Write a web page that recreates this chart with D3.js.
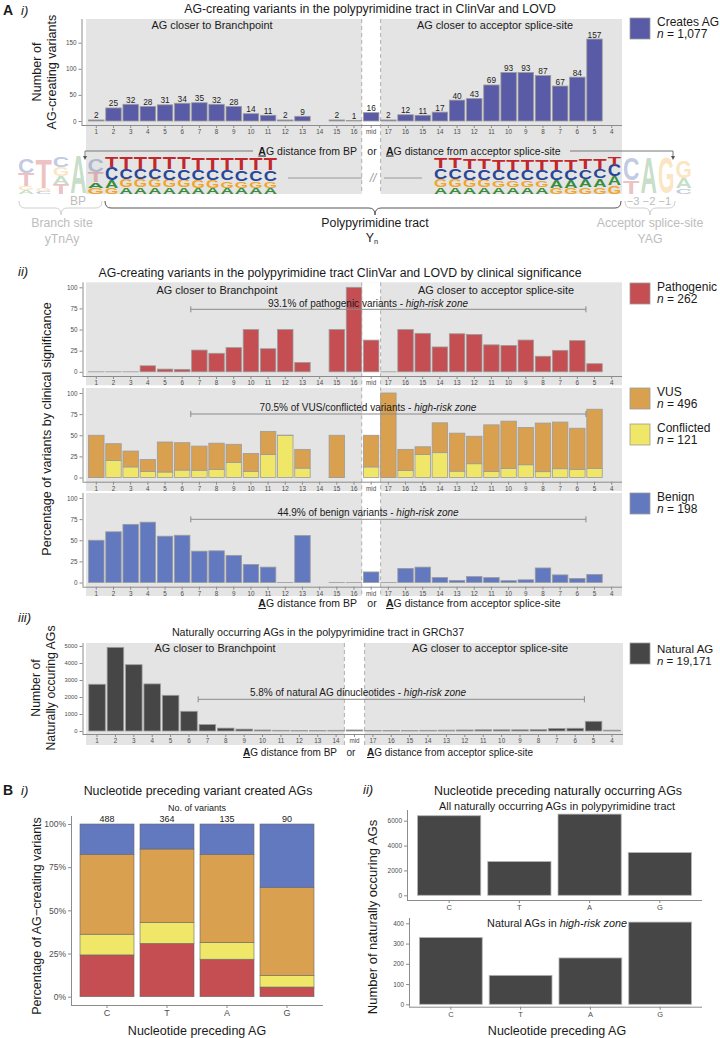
<!DOCTYPE html>
<html>
<head>
<meta charset="utf-8">
<script src="https://cdn.jsdelivr.net/npm/d3@7/dist/d3.min.js"></script>
<style>
html,body{margin:0;padding:0;background:#fff;}
svg{display:block;}
</style>
</head>
<body>
<svg id="chart" width="720" height="1038"></svg>
<script>
// ================= DATA =================
const positionsFromBP = ["1","2","3","4","5","6","7","8","9","10","11","12","13","14","15","16"];
const positionsFromAcceptor = ["17","16","15","14","13","12","11","10","9","8","7","6","5","4"];
const naturalPositionsFromBP = ["1","2","3","4","5","6","7","8","9","10","11","12","13","14"];

// A i) number of AG-creating variants
const creatingFromBP = [2,25,32,28,31,34,35,32,28,14,11,2,9,null,2,1];
const creatingMid = 16;
const creatingFromAcceptor = [2,12,11,17,40,43,69,93,93,87,67,84,157,null];

// A ii) percentage of variants by clinical significance
const pathogenicFromBP = [0,0,0,7.1,3.2,2.9,25.7,21.9,28.6,50,27.3,50,11.1,null,50,100];
const pathogenicMid = 37.5;
const pathogenicFromAcceptor = [0,50,45.5,29.4,45,44.2,31.9,31.2,37.6,18.4,25.4,36.9,9.6,null];

const vusFromBP = [50,20,18.8,14.3,35.5,32.4,28.6,31.2,21.4,21.4,27.3,0,22.2,null,50,null];
const vusMid = 37.5;
const vusFromAcceptor = [100,25,9.1,35.3,45,32.5,55.1,55.9,44.1,57.5,55.2,48.8,70,null];

const conflictedFromBP = [0,20,12.5,7.1,6.5,8.8,8.6,9.4,17.9,7.1,27.3,50,11.1,null,0,null];
const conflictedMid = 12.5;
const conflictedFromAcceptor = [0,8.3,27.3,29.4,7.5,16.3,7.2,10.8,15.1,6.9,10.4,9.5,10.8,null];

const benignFromBP = [50,60,68.8,71.4,54.8,55.9,37.1,37.5,32.1,21.4,18.2,0,55.6,null,0,0];
const benignMid = 12.5;
const benignFromAcceptor = [0,16.7,18.2,5.9,2.5,7,5.8,2.2,3.2,17.2,9,4.8,9.6,null];

// A iii) naturally occurring AGs
const naturalFromBP = [2750,4920,3900,2770,2100,1160,380,170,110,60,40,30,30,40];
const naturalMid = 60;
const naturalFromAcceptor = [30,30,30,40,50,60,70,70,70,80,150,160,570,50];

// legends
const clinicalClasses = ["Pathogenic","VUS","Conflicted","Benign"];
const clinicalCounts = ["262","496","121","198"];

// B i)
const nucleotides = ["C","T","A","G"];
const nucleotideCounts = [488,364,135,90];
const pctPathogenic = [24.2,30.9,21.7,5.6];
const pctConflicted = [12.0,12.2,9.8,6.6];
const pctVUS = [46.2,42.4,50.9,51.0];
const pctBenign = [17.6,14.5,17.6,36.8];

// B ii)
const naturalAllByNucleotide = [6400,2720,6530,3440];
const naturalHighRiskByNucleotide = [330,143,229,406];

// tick values
const yTicksCreating = [0,50,100,150];
const yTicksPct = [0,25,50,75,100];
const yTicksNatural = [0,1000,2000,3000,4000,5000];
const yTicksAll = [0,2000,4000,6000];
const yTicksHighRisk = [0,100,200,300,400];

// sequence logo (information in bits), polypyrimidine tract
const logoLeftT = [0.58,0.61,0.61,0.61,0.61,0.61,0.61,0.61,0.61,0.61,0.61,0.61];
const logoLeftC = [0.72,0.58,0.56,0.55,0.56,0.55,0.56,0.56,0.56,0.56,0.58,0.58];
const logoLeftG = [0.33,0.42,0.42,0.44,0.42,0.42,0.40,0.40,0.38,0.38,0.36,0.36];
const logoLeftA = [0.39,0.36,0.36,0.36,0.35,0.35,0.34,0.34,0.34,0.33,0.33,0.33];
const logoRightT = [0.6,0.6,0.6,0.6,0.6,0.6,0.6,0.6,0.6,0.6,0.6,0.6,0.42];
const logoRightC = [0.6,0.6,0.58,0.58,0.58,0.56,0.56,0.56,0.55,0.55,0.52,0.5,0.62];
const logoRightG = [0.42,0.42,0.4,0.4,0.38,0.38,0.37,0.37,0.34,0.34,0.36,0.38,0.45];
const logoRightA = [0.36,0.36,0.36,0.36,0.35,0.35,0.36,0.36,0.4,0.42,0.44,0.46,0.5];
const logoBranch = [
  [["C",0.78],["T",0.72],["G",0.2],["A",0.2]],
  [["T",1.6],["G",0.14],["C",0.14]],
  [["C",0.55],["G",0.5],["A",0.4],["T",0.55]],
  [["A",2.08]],
  [["C",0.7],["T",0.55],["A",0.3],["G",0.33]]
];
const logoAcceptor = [
  [["C",1.2],["T",0.72]],
  [["A",1.95]],
  [["G",1.95]],
  [["G",0.95],["A",0.55],["C",0.3]]
];

// ================= SETUP =================
const FONT = '"Liberation Sans", Arial, Helvetica, sans-serif';
const svg = d3.select("#chart").attr("font-family", FONT);
const COL = {creates:"#5a5ba6", Pathogenic:"#c44e52", VUS:"#d9a04f", Conflicted:"#f0e768", Benign:"#6279bf", natural:"#464646"};
const BG = "#e4e4e4";
const INK = "#1a1a1a";
const TICK = "#4d4d4d";
const AX = "#8c8c8c";
const FADE = "#bdbdbd";

const ids31 = [...positionsFromBP.map(p=>"L"+p), "mid", ...positionsFromAcceptor.map(p=>"R"+p)];
const ids29 = [...naturalPositionsFromBP.map(p=>"L"+p), "mid", ...positionsFromAcceptor.map(p=>"R"+p)];
const idLabel = id => id === "mid" ? "mid" : id.slice(1);
const join3 = (a,m,b) => [...a, m, ...b];

function text(g, x, y, s, o = {}) {
  const t = g.append("text").attr("x", x).attr("y", y)
    .attr("font-size", o.size || 10).attr("fill", o.fill || INK)
    .attr("text-anchor", o.anchor || "start");
  if (o.style) t.attr("font-style", o.style);
  if (o.weight) t.attr("font-weight", o.weight);
  if (o.transform) t.attr("transform", o.transform);
  if (s !== null) t.text(s);
  return t;
}
function rich(g, x, y, parts, o = {}) {
  const t = text(g, x, y, null, o);
  parts.forEach(([s, st]) => {
    const ts = t.append("tspan").text(s);
    if (st && st.i) ts.attr("font-style", "italic");
    if (st && st.b) ts.attr("font-weight", "bold");
    if (st && st.u) ts.attr("text-decoration", "underline");
    if (st && st.sub) ts.attr("font-size", (o.size || 10) * 0.6).attr("dy", 2);
  });
  return t;
}
function styleAxis(ax, size) {
  ax.selectAll(".tick line").attr("stroke", AX);
  ax.selectAll(".tick text").attr("font-size", size).attr("fill", TICK).attr("font-family", FONT);
  ax.select(".domain").attr("stroke", AX);
}
function xAxisBand(g, x, y, x0, x1, size, fmt) {
  const ax = g.append("g").attr("transform", `translate(0,${y})`)
    .call(d3.axisBottom(x).tickSize(3).tickSizeOuter(0).tickPadding(2).tickFormat(fmt || (d=>d)));
  styleAxis(ax, size);
  ax.select(".domain").attr("d", `M${x0},0.5H${x1}`);
  return ax;
}
function yAxisLin(g, y, x, top, bottom, ticks, size, fmt) {
  const ax = g.append("g").attr("transform", `translate(${x},0)`)
    .call(d3.axisLeft(y).tickValues(ticks).tickSize(3).tickSizeOuter(0).tickPadding(2).tickFormat(fmt || (d=>d)));
  styleAxis(ax, size);
  ax.select(".domain").attr("d", `M0.5,${top}V${bottom}`);
  return ax;
}
function midStrip(g, x, top, bottom) {
  const c = x("mid") + x.bandwidth() / 2, s = x.step();
  const l = c - 0.55 * s, r = c + 0.55 * s;
  g.append("rect").attr("x", l).attr("y", top).attr("width", r - l).attr("height", bottom - top).attr("fill", "#fff");
  [l, r].forEach(xx => g.append("line").attr("x1", xx).attr("x2", xx).attr("y1", top).attr("y2", bottom)
    .attr("stroke", "#a8a8a8").attr("stroke-width", 0.9).attr("stroke-dasharray", "4,3"));
}
function bars(g, x, y, ids, vals, fill, base) {
  const data = ids.map((id, i) => ({id, v: vals[i], b: base ? (base[i] || 0) : 0})).filter(d => d.v !== null);
  g.append("g").selectAll("rect").data(data).join("rect")
    .attr("x", d => x(d.id)).attr("width", x.bandwidth())
    .attr("y", d => y(d.b + d.v)).attr("height", d => Math.max(0.01, y(d.b) - y(d.b + d.v)))
    .attr("fill", fill).attr("stroke", "#9c9c9c").attr("stroke-width", 0.8);
}
function riskBracket(g, x1, x2, y) {
  g.append("line").attr("x1", x1).attr("x2", x2).attr("y1", y).attr("y2", y).attr("stroke", "#8a8a8a").attr("stroke-width", 1);
  [x1, x2].forEach(xx => g.append("line").attr("x1", xx).attr("x2", xx).attr("y1", y - 3).attr("y2", y + 3).attr("stroke", "#8a8a8a").attr("stroke-width", 1));
}
function legendBox(g, y, fill, label, n, size) {
  g.append("rect").attr("x", 630).attr("y", y).attr("width", 20).attr("height", 21).attr("fill", fill).attr("stroke", "#9c9c9c").attr("stroke-width", 0.8);
  text(g, 657, y + 7.5, label, {size: size || 12});
  rich(g, 657, y + 19.5, [["n", {i: 1}], [" = " + n]], {size: size || 12});
}
function agLabel(g, xEndBP, xOr, xStartAcc, y, size) {
  rich(g, xEndBP, y, [["A", {b: 1, u: 1}], ["G distance from BP"]], {size, anchor: "end"});
  text(g, xOr, y, "or", {size, anchor: "middle"});
  rich(g, xStartAcc, y, [["A", {b: 1, u: 1}], ["G distance from acceptor splice-site"]], {size});
}
const bound = (x, id) => x(id) + x.bandwidth() / 2 + x.step() / 2; // boundary right of id

// ================= PANEL A i =================
const gA = svg.append("g");
text(gA, 3, 15, "A", {size: 14, weight: "bold"});
text(gA, 21, 15, "i)", {size: 13, style: "italic"});
text(gA, 370, 13, "AG-creating variants in the polypyrimidine tract in ClinVar and LOVD", {size: 12.3, anchor: "middle"});

const xA = d3.scaleBand().domain(ids31).range([86, 622]).paddingInner(0.1).paddingOuter(0.15);
const yA = d3.scaleLinear().domain([0, 150]).range([121, 42.7]);
gA.append("rect").attr("x", 86).attr("y", 19).attr("width", 536).attr("height", 175).attr("fill", BG);
midStrip(gA, xA, 19, 194);
const creating = join3(creatingFromBP, creatingMid, creatingFromAcceptor);
bars(gA, xA, yA, ids31, creating, COL.creates);
gA.append("g").selectAll("text").data(ids31.map((id, i) => ({id, v: creating[i]})).filter(d => d.v !== null)).join("text")
  .attr("x", d => xA(d.id) + xA.bandwidth() / 2).attr("y", d => yA(d.v) - 1.5)
  .attr("text-anchor", "middle").attr("font-size", 8.3).attr("fill", "#222").text(d => d.v);
text(gA, 212, 29, "AG closer to Branchpoint", {size: 10.9, anchor: "middle"});
text(gA, 495, 29, "AG closer to acceptor splice-site", {size: 10.9, anchor: "middle"});
yAxisLin(gA, yA, 81.5, 19, 125, yTicksCreating, 6.3);
xAxisBand(gA, xA, 125, 81.5, 622, 6.3, idLabel);
text(gA, 0, 0, "Number of", {size: 12.6, anchor: "middle", transform: "translate(41,72) rotate(-90)"});
text(gA, 0, 0, "AG-creating variants", {size: 12.6, anchor: "middle", transform: "translate(56,72) rotate(-90)"});
legendBox(gA, 18, COL.creates, "Creates AG", "1,077");

// ---- sequence logo ----
const gL = svg.append("g");
const logoH = d3.scaleLinear().domain([0, 2]).range([0, 37]);
const LOGO_BOTTOM = 194;
const letterColor = {T: "#c1272d", C: "#27489a", G: "#f1a52a", A: "#3a8d3f"};
function drawStack(x0, w, stack, fadedFn) {
  let yb = LOGO_BOTTOM;
  for (let k = stack.length - 1; k >= 0; k--) {
    const [L, b] = stack[k];
    const h = logoH(b);
    if (h > 0.8) {
      gL.append("text").attr("x", x0).attr("y", yb - h * 0.02).attr("font-size", h / 0.72).attr("font-weight", "bold")
        .attr("textLength", w).attr("lengthAdjust", "spacingAndGlyphs")
        .attr("fill", letterColor[L]).attr("fill-opacity", fadedFn(L, k) ? 0.3 : 1).text(L);
    }
    yb -= h;
  }
}
function polyStack(i, T, C, G, A) {
  const ga = G[i] >= A[i] ? [["G", G[i]], ["A", A[i]]] : [["A", A[i]], ["G", G[i]]];
  return [["T", T[i]], ["C", C[i]], ...ga];
}
const xBranch = d3.scaleBand().domain(d3.range(logoBranch.length)).range([18, 104]).paddingInner(0.06);
logoBranch.forEach((st, i) => drawStack(xBranch(i), xBranch.bandwidth(), st, L => !(i === 4 && (L === "A" || L === "G"))));
const xPolyL = d3.scaleBand().domain(d3.range(logoLeftT.length)).range([105, 277]).paddingInner(0.08);
logoLeftT.forEach((_, i) => drawStack(xPolyL(i), xPolyL.bandwidth(), polyStack(i, logoLeftT, logoLeftC, logoLeftG, logoLeftA), () => false));
const xPolyR = d3.scaleBand().domain(d3.range(logoRightT.length)).range([434, 621]).paddingInner(0.08);
logoRightT.forEach((_, i) => drawStack(xPolyR(i), xPolyR.bandwidth(), polyStack(i, logoRightT, logoRightC, logoRightG, logoRightA), () => false));
const xAcc = d3.scaleBand().domain(d3.range(logoAcceptor.length)).range([623, 692]).paddingInner(0.06);
logoAcceptor.forEach((st, i) => drawStack(xAcc(i), xAcc.bandwidth(), st, () => true));

// gap marker
gL.append("line").attr("x1", 288).attr("x2", 362).attr("y1", 178).attr("y2", 178).attr("stroke", "#999");
gL.append("line").attr("x1", 384).attr("x2", 422).attr("y1", 178).attr("y2", 178).attr("stroke", "#999");
text(gL, 373, 182, "//", {size: 12, fill: "#999", anchor: "middle", style: "italic"});

// distance bracket
gL.append("path").attr("d", "M85,158 V151 H253").attr("fill", "none").attr("stroke", "#777");
gL.append("path").attr("d", "M570,151 H673 V158").attr("fill", "none").attr("stroke", "#777");
gL.append("path").attr("d", "M83,156 L85,160 L87,156 Z").attr("fill", "#555");
gL.append("path").attr("d", "M671,156 L673,160 L675,156 Z").attr("fill", "#555");
agLabel(gL, 357, 372, 386, 154.5, 10.5);

// braces
function brace(x1, x2, xm, yTop, yMid, yTip, color) {
  const r = 6;
  const p = `M${x1},${yTop} Q${x1},${yMid} ${x1 + r},${yMid} L${xm - r},${yMid} Q${xm},${yMid} ${xm},${yTip} Q${xm},${yMid} ${xm + r},${yMid} L${x2 - r},${yMid} Q${x2},${yMid} ${x2},${yTop}`;
  gL.append("path").attr("d", p).attr("fill", "none").attr("stroke", color).attr("stroke-width", 1);
}
brace(19, 102, 61, 201, 208, 215, "#cfcfcf");
brace(105, 621, 375, 201, 208, 215, "#555");
brace(625, 675, 650, 201, 208, 215, "#cfcfcf");
text(gL, 78, 205, "BP", {size: 12, fill: FADE, anchor: "middle"});
text(gL, 649, 205, "\u22123 \u22122 \u22121", {size: 11.2, fill: FADE, anchor: "middle"});
text(gL, 62, 227, "Branch site", {size: 12.3, fill: FADE, anchor: "middle"});
text(gL, 62, 243, "yTnAy", {size: 12.3, fill: FADE, anchor: "middle"});
text(gL, 375, 227, "Polypyrimidine tract", {size: 12.3, anchor: "middle"});
rich(gL, 372, 242, [["Y"], ["n", {sub: 1}]], {size: 12.3, anchor: "middle"});
text(gL, 650, 227, "Acceptor splice-site", {size: 12.3, fill: FADE, anchor: "middle"});
text(gL, 650, 243, "YAG", {size: 12.3, fill: FADE, anchor: "middle"});

// ================= PANEL A ii =================
const gB = svg.append("g");
text(gB, 18, 276, "ii)", {size: 13, style: "italic"});
text(gB, 340, 277, "AG-creating variants in the polypyrimidine tract ClinVar and LOVD by clinical significance", {size: 12.3, anchor: "middle"});
const subTops = [282.3, 388, 493];
subTops.forEach(T => gB.append("rect").attr("x", 86).attr("y", T).attr("width", 536).attr("height", 103).attr("fill", BG));
midStrip(gB, xA, 282.3, 596);
const yPct = T => d3.scaleLinear().domain([0, 100]).range([T + 89.5, T + 5]);

const pathogenic = join3(pathogenicFromBP, pathogenicMid, pathogenicFromAcceptor);
const vus = join3(vusFromBP, vusMid, vusFromAcceptor);
const conflicted = join3(conflictedFromBP, conflictedMid, conflictedFromAcceptor);
const benign = join3(benignFromBP, benignMid, benignFromAcceptor);
const riskX1 = bound(xA, "L6"), riskX2 = bound(xA, "R6");

// pathogenic
{
  const T = subTops[0], y = yPct(T);
  bars(gB, xA, y, ids31, pathogenic, COL.Pathogenic);
  text(gB, 217, T + 11.5, "AG closer to Branchpoint", {size: 10.9, anchor: "middle"});
  text(gB, 496, T + 11.5, "AG closer to acceptor splice-site", {size: 10.9, anchor: "middle"});
  riskBracket(gB, riskX1, riskX2, T + 27);
  rich(gB, 368, T + 24.5, [["93.1% of pathogenic variants - "], ["high-risk zone", {i: 1}]], {size: 10, anchor: "middle"});
  yAxisLin(gB, y, 82.5, T, T + 93.7, yTicksPct, 6.3);
  xAxisBand(gB, xA, T + 93.7, 82.5, 622, 6.3, idLabel);
}
// VUS + conflicted
{
  const T = subTops[1], y = yPct(T);
  bars(gB, xA, y, ids31, conflicted, COL.Conflicted);
  bars(gB, xA, y, ids31, vus, COL.VUS, conflicted);
  riskBracket(gB, riskX1, riskX2, T + 26);
  rich(gB, 368, T + 22.5, [["70.5% of VUS/conflicted variants - "], ["high-risk zone", {i: 1}]], {size: 10, anchor: "middle"});
  yAxisLin(gB, y, 82.5, T, T + 93.7, yTicksPct, 6.3);
  xAxisBand(gB, xA, T + 93.7, 82.5, 622, 6.3, idLabel);
}
// benign
{
  const T = subTops[2], y = yPct(T);
  bars(gB, xA, y, ids31, benign, COL.Benign);
  riskBracket(gB, riskX1, riskX2, T + 26.3);
  rich(gB, 368, T + 22.5, [["44.9% of benign variants - "], ["high-risk zone", {i: 1}]], {size: 10, anchor: "middle"});
  yAxisLin(gB, y, 82.5, T, T + 93.7, yTicksPct, 6.3);
  xAxisBand(gB, xA, T + 93.7, 82.5, 622, 6.3, idLabel);
}
agLabel(gB, 357, 372, 386, 607, 10.5);
text(gB, 0, 0, "Percentage of variants by clinical significance", {size: 12.6, anchor: "middle", transform: "translate(51,429) rotate(-90)"});
legendBox(gB, 283, COL.Pathogenic, clinicalClasses[0], clinicalCounts[0]);
legendBox(gB, 388, COL.VUS, clinicalClasses[1], clinicalCounts[1]);
legendBox(gB, 424, COL.Conflicted, clinicalClasses[2], clinicalCounts[2]);
legendBox(gB, 493, COL.Benign, clinicalClasses[3], clinicalCounts[3]);

// ================= PANEL A iii =================
const gC = svg.append("g");
text(gC, 18, 622, "iii)", {size: 13, style: "italic"});
text(gC, 318, 636, "Naturally occurring AGs in the polypyrimidine tract in GRCh37", {size: 10.7, anchor: "middle"});
const xN = d3.scaleBand().domain(ids29).range([86, 623]).paddingInner(0.1).paddingOuter(0.15);
const yN = d3.scaleLinear().domain([0, 5000]).range([731, 646]);
gC.append("rect").attr("x", 86).attr("y", 643).attr("width", 537).attr("height", 102).attr("fill", BG);
midStrip(gC, xN, 643, 745);
const natural = join3(naturalFromBP, naturalMid, naturalFromAcceptor);
bars(gC, xN, yN, ids29, natural, COL.natural);
text(gC, 215, 652, "AG closer to Branchpoint", {size: 10.9, anchor: "middle"});
text(gC, 490, 652, "AG closer to acceptor splice-site", {size: 10.9, anchor: "middle"});
riskBracket(gC, bound(xN, "L6"), bound(xN, "R6"), 699.3);
rich(gC, 358, 695.5, [["5.8% of natural AG dinucleotides - "], ["high-risk zone", {i: 1}]], {size: 10, anchor: "middle"});
yAxisLin(gC, yN, 82.5, 643, 734, yTicksNatural, 5.8);
xAxisBand(gC, xN, 734, 82.5, 623, 6.3, idLabel);
agLabel(gC, 337, 351, 367, 756, 10);
text(gC, 0, 0, "Number of", {size: 12.3, anchor: "middle", transform: "translate(40,688) rotate(-90)"});
text(gC, 0, 0, "Naturally occuring AGs", {size: 12.3, anchor: "middle", transform: "translate(55,688) rotate(-90)"});
gC.append("rect").attr("x", 630).attr("y", 643).attr("width", 20).attr("height", 21).attr("fill", COL.natural).attr("stroke", "#9c9c9c").attr("stroke-width", 0.8);
text(gC, 657, 652.5, "Natural AG", {size: 11.5});
rich(gC, 657, 664.5, [["n", {i: 1}], [" = 19,171"]], {size: 11.5});

// ================= PANEL B i =================
const gD = svg.append("g");
text(gD, 3, 795, "B", {size: 14, weight: "bold"});
text(gD, 21, 795, "i)", {size: 13, style: "italic"});
text(gD, 198, 795, "Nucleotide preceding variant created AGs", {size: 12.4, anchor: "middle"});
text(gD, 197, 811, "No. of variants", {size: 9, anchor: "middle"});
const xBi = d3.scaleBand().domain(nucleotides).range([71, 323]).paddingInner(0.1).paddingOuter(0.15);
const yBi = d3.scaleLinear().domain([0, 100]).range([996.7, 824]);
const tableBi = nucleotides.map((n, i) => ({nuc: n, Pathogenic: pctPathogenic[i], Conflicted: pctConflicted[i], VUS: pctVUS[i], Benign: pctBenign[i]}));
const stackBi = d3.stack().keys(["Pathogenic", "Conflicted", "VUS", "Benign"])(tableBi);
gD.append("g").selectAll("g").data(stackBi).join("g").attr("fill", d => COL[d.key])
  .selectAll("rect").data(d => d).join("rect")
  .attr("x", d => xBi(d.data.nuc)).attr("width", xBi.bandwidth())
  .attr("y", d => yBi(d[1])).attr("height", d => yBi(d[0]) - yBi(d[1]))
  .attr("stroke", "#6a6a6a").attr("stroke-width", 0.6);
gD.append("g").selectAll("text").data(nucleotides).join("text")
  .attr("x", d => xBi(d) + xBi.bandwidth() / 2).attr("y", 822).attr("text-anchor", "middle")
  .attr("font-size", 9).attr("fill", INK).text((d, i) => nucleotideCounts[i]);
yAxisLin(gD, yBi, 71, 816, 1005, yTicksPct, 8.5, d => d + "%");
xAxisBand(gD, xBi, 1005, 71, 323, 9);
text(gD, 197, 1035, "Nucleotide preceding AG", {size: 12.5, anchor: "middle"});
text(gD, 0, 0, "Percentage of AG\u2212creating variants", {size: 12.5, anchor: "middle", transform: "translate(41,916) rotate(-90)"});

// ================= PANEL B ii =================
const gE = svg.append("g");
text(gE, 363, 794, "ii)", {size: 13, style: "italic"});
text(gE, 558, 795, "Nucleotide preceding naturally occurring AGs", {size: 12.4, anchor: "middle"});
text(gE, 557, 810, "All naturally occurring AGs in polypyrimidine tract", {size: 10.9, anchor: "middle"});
const xAll = d3.scaleBand().domain(nucleotides).range([407, 702]).paddingInner(0.1).paddingOuter(0.15);
const yAll = d3.scaleLinear().domain([0, 6000]).range([895.3, 820.7]);
gE.append("g").selectAll("rect").data(nucleotides).join("rect")
  .attr("x", d => xAll(d)).attr("width", xAll.bandwidth())
  .attr("y", (d, i) => yAll(naturalAllByNucleotide[i])).attr("height", (d, i) => yAll(0) - yAll(naturalAllByNucleotide[i]))
  .attr("fill", COL.natural).attr("stroke", "#b5b5b5").attr("stroke-width", 0.8);
yAxisLin(gE, yAll, 407, 810, 900, yTicksAll, 6.5);
xAxisBand(gE, xAll, 900, 407, 702, 7.5);

const xHR = d3.scaleBand().domain(nucleotides).range([409, 702]).paddingInner(0.1).paddingOuter(0.15);
const yHR = d3.scaleLinear().domain([0, 400]).range([1004.3, 923.3]);
gE.append("g").selectAll("rect").data(nucleotides).join("rect")
  .attr("x", d => xHR(d)).attr("width", xHR.bandwidth())
  .attr("y", (d, i) => yHR(naturalHighRiskByNucleotide[i])).attr("height", (d, i) => yHR(0) - yHR(naturalHighRiskByNucleotide[i]))
  .attr("fill", COL.natural).attr("stroke", "#b5b5b5").attr("stroke-width", 0.8);
yAxisLin(gE, yHR, 409, 918, 1006.7, yTicksHighRisk, 6.5);
xAxisBand(gE, xHR, 1006.7, 409, 702, 7.5);
rich(gE, 557, 926.5, [["Natural AGs in "], ["high-risk zone", {i: 1}]], {size: 10.8, anchor: "middle"});
text(gE, 557, 1035, "Nucleotide preceding AG", {size: 12.5, anchor: "middle"});
text(gE, 0, 0, "Number of naturally occuring AGs", {size: 13, anchor: "middle", transform: "translate(377,917) rotate(-90)"});
</script>
</body>
</html>
